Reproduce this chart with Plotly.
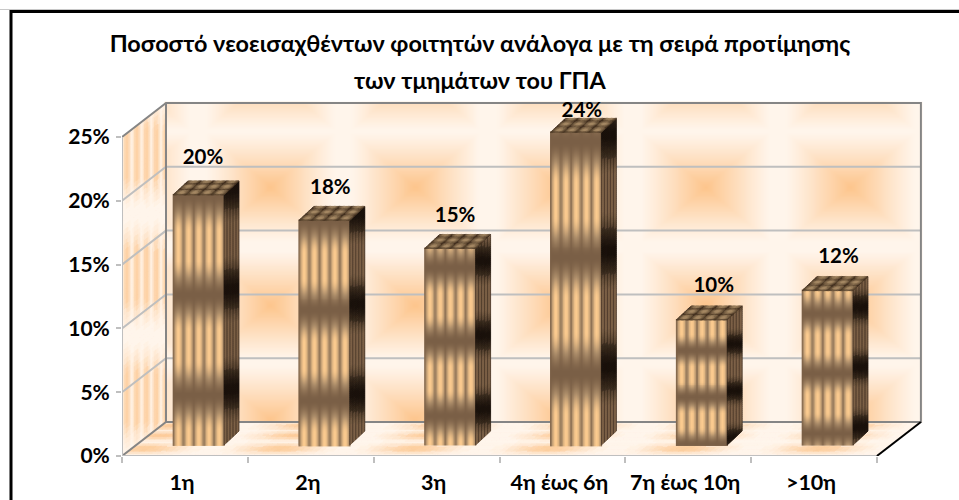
import math
import numpy as np
import plotly.graph_objects as go

# ---- data ----
categories = ["1η", "2η", "3η", "4η έως 6η", "7η έως 10η", ">10η"]
values = [19.6, 17.6, 15.4, 24.5, 9.8, 12.1]
value_labels = ["20%", "18%", "15%", "24%", "10%", "12%"]
y_ticks = [0, 5, 10, 15, 20, 25]
y_tick_labels = ["0%", "5%", "10%", "15%", "20%", "25%"]
title_line1 = "Ποσοστό νεοεισαχθέντων φοιτητών ανάλογα με τη σειρά προτίμησης"
title_line2 = "των τμημάτων του ΓΠΑ"

# ---- layout constants (pixels of the 959x500 picture) ----
W, H = 959, 500
BAND = 125.8      # px per category
PCT = 12.76       # px per percent
X0_PX = 185.0     # px of category 0 on the front plane
Y0_PX = 456.0     # px of 0 % on the front plane
LEFT_PX, RIGHT_PX, TOP_PX = 122.0, 930.0, 95.0
WALL_DX, WALL_DY = 44.0, 34.0
BAR_DX, BAR_DY = 13.5, 11.0     # shift of the bar fronts from the front plane
SIDE_DX, SIDE_DY = 15.0, 14.0   # depth of the bars
BAR_HALF = 25.5
FONT = "Lato, 'Open Sans', sans-serif"
label_dx = [4.5, 6, 5, 6, 12, 11]
label_dy = [36, 32, 32, 21, 33, 33]
# horizontal dark bands of the bar texture: px period and a px row where one sits
band_period = [100, 90, 74, 116, 47, 60]
band_anchor = [395, 400, 415, 373, 397, 373]

xr = [(LEFT_PX - X0_PX) / BAND, (RIGHT_PX - X0_PX) / BAND]
yr = [0, (Y0_PX - TOP_PX) / PCT]


def xd(dx_px):
    return dx_px / BAND


def yd(dy_px):
    return dy_px / PCT


def px_x(x):
    return X0_PX + x * BAND


def px_y(y):
    return Y0_PX - y * PCT


def mix(c0, c1, t):
    t = max(0.0, min(1.0, t))
    a = [int(c0[i:i + 2], 16) for i in (1, 3, 5)]
    b = [int(c1[i:i + 2], 16) for i in (1, 3, 5)]
    return "#%02x%02x%02x" % tuple(round(p + (q - p) * t) for p, q in zip(a, b))


def add_poly(store, c0, c1, t, steps, pts):
    key = mix(c0, c1, round(max(0, min(1, t)) * steps) / steps)
    xs, ys = store.setdefault(key, ([], []))
    xs.extend(p[0] for p in pts)
    xs.extend([pts[0][0], None])
    ys.extend(p[1] for p in pts)
    ys.extend([pts[0][1], None])


def poly_traces(fig, store, xa, ya):
    for col, (xs, ys) in store.items():
        fig.add_trace(go.Scatter(x=xs, y=ys, mode="lines", fill="toself", fillcolor=col,
                                 line=dict(color=col, width=0.8), hoverinfo="skip",
                                 showlegend=False, xaxis=xa, yaxis=ya))


def line_trace(fig, pts, color, width):
    fig.add_trace(go.Scatter(x=[p[0] for p in pts], y=[p[1] for p in pts], mode="lines",
                             line=dict(color=color, width=width), hoverinfo="skip",
                             showlegend=False, cliponaxis=False))


def depth(x, y, d):
    return (x + xd(WALL_DX) * d, y + yd(WALL_DY) * d)


WALL_A, WALL_B = "#fff5eb", "#fdc58c"
fig = go.Figure()

# ---- back wall (tiled soft squares) ----
blob_x = [125, 270, 415, 560, 705, 850, 995]
blob_y = [75, 187, 305, 420]
wall_x = np.linspace(xr[0] + xd(WALL_DX), 5.5 + xd(WALL_DX), 260)
wall_y = np.linspace(yd(WALL_DY), 25 + yd(WALL_DY), 130)
wall_z = []
for yv in wall_y:
    row = []
    py = px_y(yv)
    for xv in wall_x:
        p = px_x(xv)
        t = 0.0
        for bx in blob_x:
            for by in blob_y:
                t = max(t, 1 - max(abs(p - bx) / 64, abs(py - by) / 54))
        row.append(t ** 1.1)
    wall_z.append(row)
fig.add_trace(go.Heatmap(x=wall_x, y=wall_y, z=wall_z, zmin=0, zmax=1, zsmooth="best", showscale=False,
                         colorscale=[[0, WALL_A], [1, WALL_B]], hoverinfo="skip"))

# ---- left wall and floor ----
under = {}
for i in range(22):
    d0, d1 = i / 22, (i + 1) / 22
    s = abs(math.sin(math.pi * 4.5 * (i + 0.5) / 22)) ** 1.5
    for j in range(64):
        v0, v1 = j * 25 / 64, (j + 1) * 25 / 64
        py = px_y((v0 + v1) / 2) - WALL_DY * (d0 + d1) / 2 + 17
        fade = 0.5 + 0.5 * math.cos(2 * math.pi * (py - 170) / 122)
        a, b = depth(xr[0], v0, d0), depth(xr[0], v0, d1)
        c, e = depth(xr[0], v1, d1), depth(xr[0], v1, d0)
        add_poly(under, WALL_A, WALL_B, 0.75 * s * min(1, fade * 1.5), 14, [a, b, c, e])
for i in range(140):
    x0 = xr[0] + i * 6.0 / 140
    x1 = xr[0] + (i + 1) * 6.0 / 140
    p = px_x((x0 + x1) / 2)
    blob = (0.5 + 0.5 * math.cos(2 * math.pi * (p - 270) / 135)) ** 1.2
    for j in range(14):
        d0, d1 = j / 14, (j + 1) / 14
        dm = (d0 + d1) / 2
        s = max(math.exp(-((dm - 0.22) / 0.12) ** 2), math.exp(-((dm - 0.6) / 0.1) ** 2),
                math.exp(-((dm - 0.88) / 0.1) ** 2))
        a, b = depth(x0, 0, d0), depth(x1, 0, d0)
        c, e = depth(x1, 0, d1), depth(x0, 0, d1)
        add_poly(under, WALL_A, WALL_B, 0.85 * s * blob, 14, [a, b, c, e])
poly_traces(fig, under, "x", "y")

# ---- grid lines and frame of the box ----
GRID, EDGE = "#bfbfbf", "#858585"
for t in y_ticks[1:-1]:
    line_trace(fig, [depth(xr[0], t, 0), depth(xr[0], t, 1), depth(5.5, t, 1)], GRID, 2)
line_trace(fig, [depth(xr[0], 25, 0), depth(xr[0], 25, 1), depth(5.5, 25, 1), depth(5.5, 0, 1),
                 depth(xr[0], 0, 1), depth(xr[0], 0, 0)], EDGE, 2)
line_trace(fig, [depth(xr[0], 25, 1), depth(xr[0], 0, 1)], EDGE, 2)
line_trace(fig, [depth(xr[0], 25, 0), depth(xr[0], 0, 0), depth(5.5, 0, 0)], GRID, 2)
line_trace(fig, [depth(5.5, 0, 0), depth(5.5, 0, 1)], "#000000", 2)

# ---- the bars themselves ----
cats = list(range(len(categories)))
fig.add_trace(go.Bar(x=[c + xd(BAR_DX) for c in cats], y=values, base=yd(BAR_DY), width=xd(2 * BAR_HALF),
                     marker=dict(color="#8c7054", line=dict(width=0)), hoverinfo="skip", showlegend=False,
                     xaxis="x2", yaxis="y2"))


def band_light(py, period, anchor):
    dist = abs(((py - anchor + period / 2) % period) - period / 2)
    b = min(1.0, dist / (period * 0.36))
    return b * b * (3 - 2 * b)


over = {}
for k, (c, v) in enumerate(zip(cats, values)):
    xc = c + xd(BAR_DX)
    xl, xrt = xc - xd(BAR_HALF), xc + xd(BAR_HALF)
    yb, yt = yd(BAR_DY), yd(BAR_DY) + v
    # front face
    fx = np.linspace(xl, xrt, 80)
    fy = np.linspace(yb, yt, int((yt - yb) * PCT / 2) + 2)
    z = []
    for yy in fy:
        light = band_light(px_y(yy), band_period[k], band_anchor[k])
        row = []
        for xx in fx:
            u = (xx - xl) / (xrt - xl)
            s = abs(math.sin(math.pi * 5 * u)) ** 0.8
            row.append(light * (0.1 + 0.9 * s))
        z.append(row)
    fig.add_trace(go.Heatmap(x=fx, y=fy, z=z, zmin=0, zmax=1, zsmooth="best", showscale=False,
                             colorscale=[[0, "#7a5f46"], [0.45, "#ab8c69"], [1, "#fdcc90"]],
                             hoverinfo="skip", xaxis="x3", yaxis="y3"))
    # side face: stripes along the depth, dark band level on the screen
    n_cols, n_rows = 15, int((yt - yb) * PCT / 2)
    dxs, dys = xd(SIDE_DX), yd(SIDE_DY)
    for i in range(n_cols):
        u0, u1 = i / n_cols, (i + 1) / n_cols
        um = (u0 + u1) / 2
        s = abs(math.sin(math.pi * 5 * um)) ** 1.5
        for j in range(n_rows):
            y0 = yb + (yt - yb) * j / n_rows
            y1 = yb + (yt - yb) * (j + 1) / n_rows
            py = px_y((y0 + y1) / 2 + dys * um) + 6
            light = band_light(py, band_period[k], band_anchor[k])
            pts = [(xrt + dxs * u0, y0 + dys * u0), (xrt + dxs * u1, y0 + dys * u1),
                   (xrt + dxs * u1, y1 + dys * u1), (xrt + dxs * u0, y1 + dys * u0)]
            add_poly(over, "#1c130c", "#7d6248", light * (0.35 + 0.65 * s), 16, pts)
    # top face
    for i in range(40):
        a0, a1 = i / 40, (i + 1) / 40
        sa = abs(math.sin(math.pi * 4 * (a0 + a1) / 2)) ** 1.0
        for j in range(9):
            b0, b1 = j / 9, (j + 1) / 9
            sb = abs(math.sin(math.pi * 2.5 * (b0 + b1) / 2)) ** 1.0
            def pt(a, b):
                return (xl + (xrt - xl) * a + dxs * b, yt + dys * b)
            add_poly(over, "#42301f", "#a58863", sa * sb, 10,
                     [pt(a0, b0), pt(a1, b0), pt(a1, b1), pt(a0, b1)])
poly_traces(fig, over, "x3", "y3")

# ---- value labels ----
fig.add_trace(go.Scatter(
    x=[c + xd(BAR_DX + dx) for c, dx in zip(cats, label_dx)],
    y=[yd(BAR_DY + dy) + v for v, dy in zip(values, label_dy)],
    text=value_labels, mode="text", textposition="middle center",
    textfont=dict(family=FONT, size=20.5, color="#000000", weight=700),
    hoverinfo="skip", showlegend=False, cliponaxis=False, xaxis="x3", yaxis="y3"))

dom_x = [LEFT_PX / W, RIGHT_PX / W]
dom_y = [(H - Y0_PX) / H, (H - TOP_PX) / H]
hidden = dict(visible=False, fixedrange=True, automargin=False)
fig.update_layout(
    autosize=False,
    width=W, height=H, margin=dict(l=0, r=0, t=0, b=0, pad=0, autoexpand=False),
    paper_bgcolor="#ffffff", plot_bgcolor="rgba(0,0,0,0)", showlegend=False,
    font=dict(family=FONT, color="#000000"),
    title=dict(text=title_line1, x=480 / W, xanchor="center", xref="paper",
               y=1 - 44 / H, yanchor="middle", yref="paper", automargin=False,
               font=dict(family=FONT, size=23.4, color="#000000", weight=700)),
    xaxis=dict(domain=dom_x, range=xr, tickmode="array", automargin=False,
               tickvals=[c - xd(3) for c in cats], ticktext=categories,
               ticks="", showgrid=False, zeroline=False, showline=False, ticklabelstandoff=11,
               tickfont=dict(family=FONT, size=21.5, color="#000000", weight=700),
               minor=dict(tickmode="array", tickvals=[c - 0.5 for c in cats] + [5.5], ticks="outside",
                          ticklen=6, tickwidth=2, tickcolor=GRID, showgrid=False)),
    yaxis=dict(domain=dom_y, range=yr, tickmode="array", tickvals=y_ticks, ticktext=y_tick_labels,
               automargin=False,
               ticks="outside", ticklen=5, tickwidth=2, tickcolor=GRID, showgrid=False, zeroline=False,
               showline=False, ticklabelstandoff=2,
               tickfont=dict(family=FONT, size=21, color="#000000", weight=700)),
    xaxis2=dict(domain=dom_x, range=xr, overlaying="x", **hidden),
    yaxis2=dict(domain=dom_y, range=yr, overlaying="y", **hidden),
    xaxis3=dict(domain=dom_x, range=xr, overlaying="x", **hidden),
    yaxis3=dict(domain=dom_y, range=yr, overlaying="y", **hidden),
    annotations=[dict(text=title_line2, x=480 / W, y=1 - 80 / H, xref="paper", yref="paper",
                      xanchor="center", yanchor="middle", showarrow=False,
                      font=dict(family=FONT, size=23.4, color="#000000", weight=700))],
    shapes=[
        dict(type="line", xref="paper", yref="paper", x0=0, x1=1, y0=1 - 9.5 / H, y1=1 - 9.5 / H,
             line=dict(color="#c8c8c8", width=1)),
        dict(type="line", xref="paper", yref="paper", x0=11 / W, x1=1, y0=1 - 11.5 / H, y1=1 - 11.5 / H,
             line=dict(color="#000000", width=3)),
        dict(type="line", xref="paper", yref="paper", x0=11 / W, x1=11 / W, y0=0, y1=1 - 10 / H,
             line=dict(color="#000000", width=3)),
    ],
)
fig.write_html("out.html", config={"displayModeBar": False, "responsive": False},
               post_script="document.documentElement.style.margin='0';document.body.style.margin='0';document.body.style.overflow='hidden';")
